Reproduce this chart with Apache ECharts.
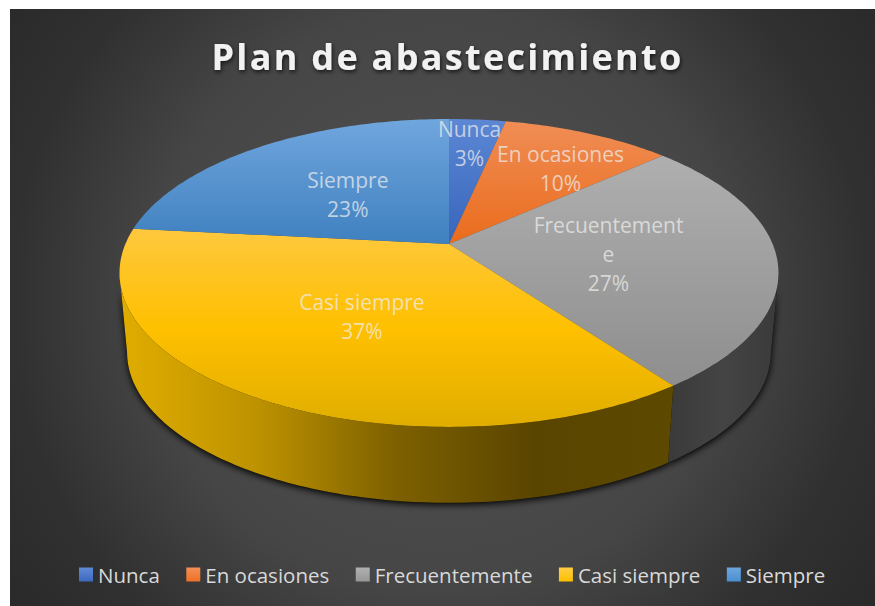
<!DOCTYPE html>
<html>
<head>
<meta charset="utf-8">
<style>
  html, body { margin: 0; padding: 0; background: #fff; }
  #chart { position: absolute; left: 10px; top: 9px; width: 865px; height: 597px; }
  /* zrender has no letter spacing option, the title is the only bold text */
  #chart svg text[style*="bold"] { letter-spacing: 2.3px; }
</style>
<script src="https://cdn.jsdelivr.net/npm/echarts@6/dist/echarts.min.js"></script>
</head>
<body>
<div id="chart"></div>
<script>
var titleText = 'Plan de abastecimiento'
var categories = ['Nunca', 'En ocasiones', 'Frecuentemente', 'Casi siempre', 'Siempre']
var values = [1, 3, 8, 11, 7]

var faceColors = [
  ['#5c87d4', '#3765bb'],
  ['#f08d55', '#ea6c1c'],
  ['#afafaf', '#8e8e8e'],
  ['#fec83e', '#ffc000', '#e0ae00'],
  ['#70a6de', '#3f80bf']
]
var legendColors = [
  ['#5f8ad6', '#3c69bd'],
  ['#f38f55', '#ee7024'],
  ['#b0b0b0', '#979797'],
  ['#ffcd45', '#ffc000'],
  ['#6ea6de', '#4b8fd0']
]
var wallColors = [
  null,
  null,
  ['#3a3a3a', '#444444', '#3a3a3a'],
  ['#e0ad00', '#bd9200', '#7d6000', '#5a4500', '#5e4900'],
  null
]

// pie geometry, the far side is squeezed a bit like the tilted 3D pie
var cx = 439, cy = 235
var ax = 323.6, by = 148.5, tilt = 0.188
var depthScale = 0.977, vanishY = 3721
// top and bottom rims cross past these angles, so the wall stops at the outline
var wallFrom = 101, wallTo = 259
var labelRadius = [0.8, 0.71, 0.5, 0.5, 0.5]
var labelNudge = [[-3, 2], [8.5, 6], [-3, 2], [1, 2], [0, 2]]

var total = values.reduce(function (a, b) { return a + b }, 0)
var starts = []
values.reduce(function (sum, v, i) {
  starts[i] = sum / total * 360
  return sum + v
}, 0)

function project(deg, r, lower) {
  var t = deg * Math.PI / 180
  var w = 1 + tilt * r * Math.cos(t)
  var x = cx + ax * r * Math.sin(t) / w
  var y = cy - by * r * Math.cos(t) / w
  if (lower) {
    x = cx + (x - cx) * depthScale
    y = vanishY + (y - vanishY) * depthScale
  }
  return [x, y]
}

function arc(from, to, lower) {
  var pts = []
  for (var d = from; d < to; d += 1) pts.push(project(d, 1, lower))
  pts.push(project(to, 1, lower))
  return pts
}

function gradient(colors, horizontal) {
  var stops = colors.map(function (c, i) {
    return { offset: i / (colors.length - 1), color: c }
  })
  return new echarts.graphic.LinearGradient(0, 0, horizontal ? 1 : 0, horizontal ? 0 : 1, stops)
}

function renderSlice(i) {
  return function () {
    var from = starts[i]
    var to = from + values[i] / total * 360
    var children = []

    var wFrom = Math.max(from, wallFrom)
    var wTo = Math.min(to, wallTo)
    if (wallColors[i] && wFrom < wTo) {
      var wall = arc(wFrom, wTo, false).concat(arc(wFrom, wTo, true).reverse())
      children.push({
        type: 'polygon', z2: 0, shape: { points: wall },
        style: { fill: '#000', shadowBlur: 7, shadowColor: '#000', shadowOffsetY: 2 }
      })
      children.push({
        type: 'polygon', z2: 1, shape: { points: wall },
        style: { fill: gradient(wallColors[i], true) }
      })
    }

    children.push({
      type: 'polygon', z2: 2,
      shape: { points: [project(0, 0, false)].concat(arc(from, to, false)) },
      style: { fill: gradient(faceColors[i], false) }
    })

    var pos = project((from + to) / 2, labelRadius[i], false)
    children.push({
      type: 'text', z2: 3, x: pos[0] + labelNudge[i][0], y: pos[1] + labelNudge[i][1],
      style: {
        text: categories[i] + '\n' + Math.round(values[i] / total * 100) + '%',
        width: 155, overflow: 'breakAll',
        font: '21px "Open Sans"', lineHeight: 29,
        fill: 'rgba(238,238,238,0.72)', align: 'center', verticalAlign: 'middle'
      }
    })
    return { type: 'group', children: children }
  }
}

var chart = echarts.init(document.getElementById('chart'), null, { renderer: 'svg' })
chart.setOption({
  animation: false,
  backgroundColor: new echarts.graphic.RadialGradient(430, 291, 525, [
    { offset: 0, color: '#525252' },
    { offset: 0.55, color: '#464646' },
    { offset: 0.82, color: '#303030' },
    { offset: 1, color: '#2a2a2a' }
  ], true),
  title: {
    text: titleText,
    left: 432.5,
    top: 24,
    textAlign: 'center',
    textStyle: {
      color: '#f2f2f2',
      fontFamily: 'Open Sans',
      fontWeight: 'bold',
      fontSize: 36,
      textShadowColor: 'rgba(0,0,0,0.7)',
      textShadowBlur: 4,
      textShadowOffsetX: 1,
      textShadowOffsetY: 2
    }
  },
  legend: {
    left: 64,
    top: 550,
    itemWidth: 14,
    itemHeight: 14,
    itemGap: 26.5,
    icon: 'rect',
    data: categories.map(function (name, i) {
      return { name: name, itemStyle: { color: gradient(legendColors[i], false) } }
    }),
    textStyle: { color: '#d9d9d9', fontFamily: 'Open Sans', fontSize: 20.5 }
  },
  series: categories.map(function (name, i) {
    return {
      type: 'custom',
      name: name,
      coordinateSystem: 'none',
      silent: true,
      data: [values[i]],
      renderItem: renderSlice(i)
    }
  })
})
</script>
</body>
</html>
